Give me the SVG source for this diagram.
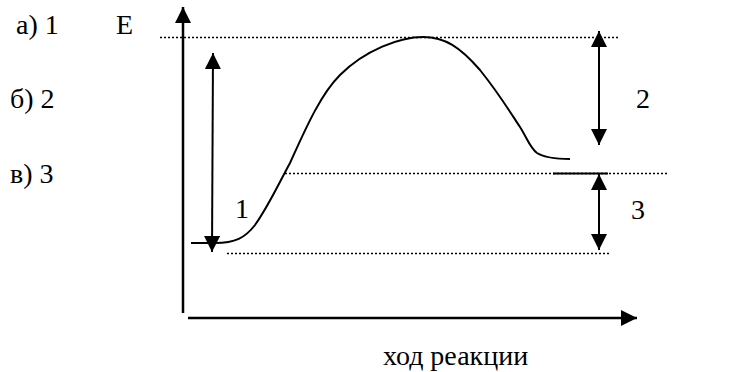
<svg xmlns="http://www.w3.org/2000/svg" width="740" height="372" viewBox="0 0 740 372">
<defs>
<marker id="ah" viewBox="0 0 16 16" refX="16" refY="8" markerWidth="16" markerHeight="16" markerUnits="userSpaceOnUse" orient="auto-start-reverse">
<path d="M0,0 L16,8 L0,16 Z" fill="#000"/>
</marker>
</defs>
<style>
.t{font-family:'Liberation Serif','Times New Roman','DejaVu Serif',serif;font-size:28px;fill:#000}
.ax{stroke:#000;stroke-width:2.5;fill:none}
.dot{stroke:#000;stroke-width:1.5;stroke-dasharray:2 2;fill:none}
.ln{stroke:#000;stroke-width:2;fill:none}
</style>
<rect width="740" height="372" fill="#fff"/>
<g id="labels">
<text class="t" x="16" y="34">а) 1</text>
<text class="t" x="10" y="108">б) 2</text>
<text class="t" x="10" y="183">в) 3</text>
<text class="t" x="116" y="34">Е</text>
<text class="t" x="235" y="218">1</text>
<text class="t" x="636" y="108">2</text>
<text class="t" x="631" y="219">3</text>
<text class="t" x="383" y="365">ход реакции</text>
</g>
<g id="axes">
<line class="ax" x1="183" y1="313" x2="183" y2="7" marker-end="url(#ah)"/>
<line class="ax" x1="188" y1="318" x2="637" y2="318" marker-end="url(#ah)"/>
</g>
<g id="levels">
<line class="dot" x1="160" y1="37.5" x2="620" y2="37.5"/>
<line class="dot" x1="285" y1="173.5" x2="668" y2="173.5"/>
<line class="dot" x1="227" y1="253.5" x2="609" y2="253.5"/>
<line class="ln" x1="553" y1="173.5" x2="608" y2="173.5"/>
</g>
<g id="curve">
<path class="ln" d="M191,243 L215,243 C235,243 245,238 255,225 C268,207 278,185 290,163 C305,130 320,95 340,75 C365,50 400,37 423,37 C445,37 460,47 480,70 C500,95 510,112 520,127 C527,138 530,148 537,153 C545,158 555,159 570,159"/>
</g>
<g id="connectors">
<line class="ln" x1="213" y1="53" x2="212" y2="252" marker-start="url(#ah)" marker-end="url(#ah)"/>
<line class="ln" x1="599" y1="31" x2="599" y2="145" marker-start="url(#ah)" marker-end="url(#ah)"/>
<line class="ln" x1="599" y1="174" x2="599" y2="250" marker-start="url(#ah)" marker-end="url(#ah)"/>
</g>
</svg>
